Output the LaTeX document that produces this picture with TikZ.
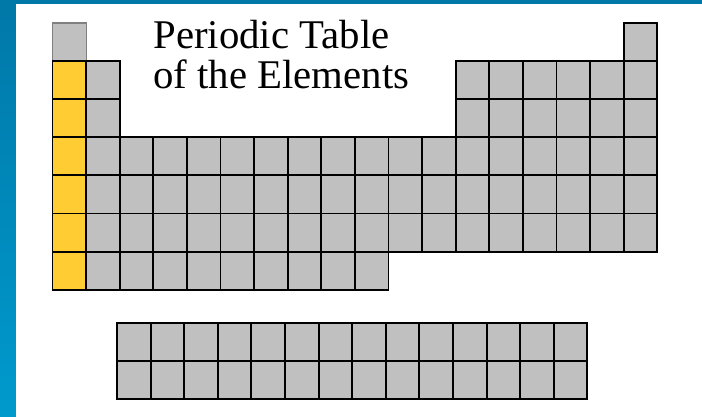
\documentclass[tikz,border=0pt]{standalone}
\usepackage{fontspec}
\setmainfont{Liberation Serif}
\usepackage{xcolor}
\definecolor{FrameBlueTop}{HTML}{0078A8}
\definecolor{FrameBlueBot}{HTML}{009ACD}
\definecolor{CellGray}{HTML}{C0C0C0}
\definecolor{AlkaliGold}{HTML}{FFCC33}
\usepackage{tikz}
\usetikzlibrary{positioning}

\tikzset{
  elcell/.style={fill=CellGray, draw=black, line width=1.3pt},
  alkcell/.style={fill=AlkaliGold, draw=black, line width=1.3pt},
}

\begin{document}
\begin{tikzpicture}
  \useasboundingbox (0,0) rectangle (17.55,10.425);
  \fill[white] (0,0) rectangle (17.55,10.425);

  % --- cadre bleu ---
  \shade[top color=FrameBlueTop, bottom color=FrameBlueBot] (0,0) rectangle (0.4,10.425);
  \fill[FrameBlueTop] (0,10.325) rectangle (17.55,10.425);

  % --- titre ---
  \node[anchor=north west, align=left, inner sep=0pt, font=\fontsize{29}{28.8}\selectfont]
    (title) at (3.83,9.93) {Periodic Table\\of the Elements};

  % --- tableau principal ---
  \begin{scope}[shift={(1.3125,9.85)}, x=0.84cm, y=-0.9525cm]
    % ligne 1
    \draw[elcell, draw=gray, line width=0.8pt] (0,0) rectangle (1,1);
    \draw[elcell] (17,0) rectangle (18,1);
    % lignes 2-3
    \foreach \r in {1,2} {
      \draw[alkcell] (0,\r) rectangle (1,\r+1);
      \draw[elcell] (1,\r) rectangle (2,\r+1);
      \foreach \c in {12,...,17}
        \draw[elcell] (\c,\r) rectangle (\c+1,\r+1);
    }
    % lignes 4-6
    \foreach \r in {3,4,5} {
      \draw[alkcell] (0,\r) rectangle (1,\r+1);
      \foreach \c in {1,...,17}
        \draw[elcell] (\c,\r) rectangle (\c+1,\r+1);
    }
    % ligne 7
    \draw[alkcell] (0,6) rectangle (1,7);
    \foreach \c in {1,...,9}
      \draw[elcell] (\c,6) rectangle (\c+1,7);
  \end{scope}

  % --- lanthanides / actinides ---
  \begin{scope}[shift={(2.925,2.35)}, x=0.84cm, y=-0.9525cm]
    \foreach \r in {0,1}
      \foreach \c in {0,...,13}
        \draw[elcell] (\c,\r) rectangle (\c+1,\r+1);
  \end{scope}
\end{tikzpicture}
\end{document}
